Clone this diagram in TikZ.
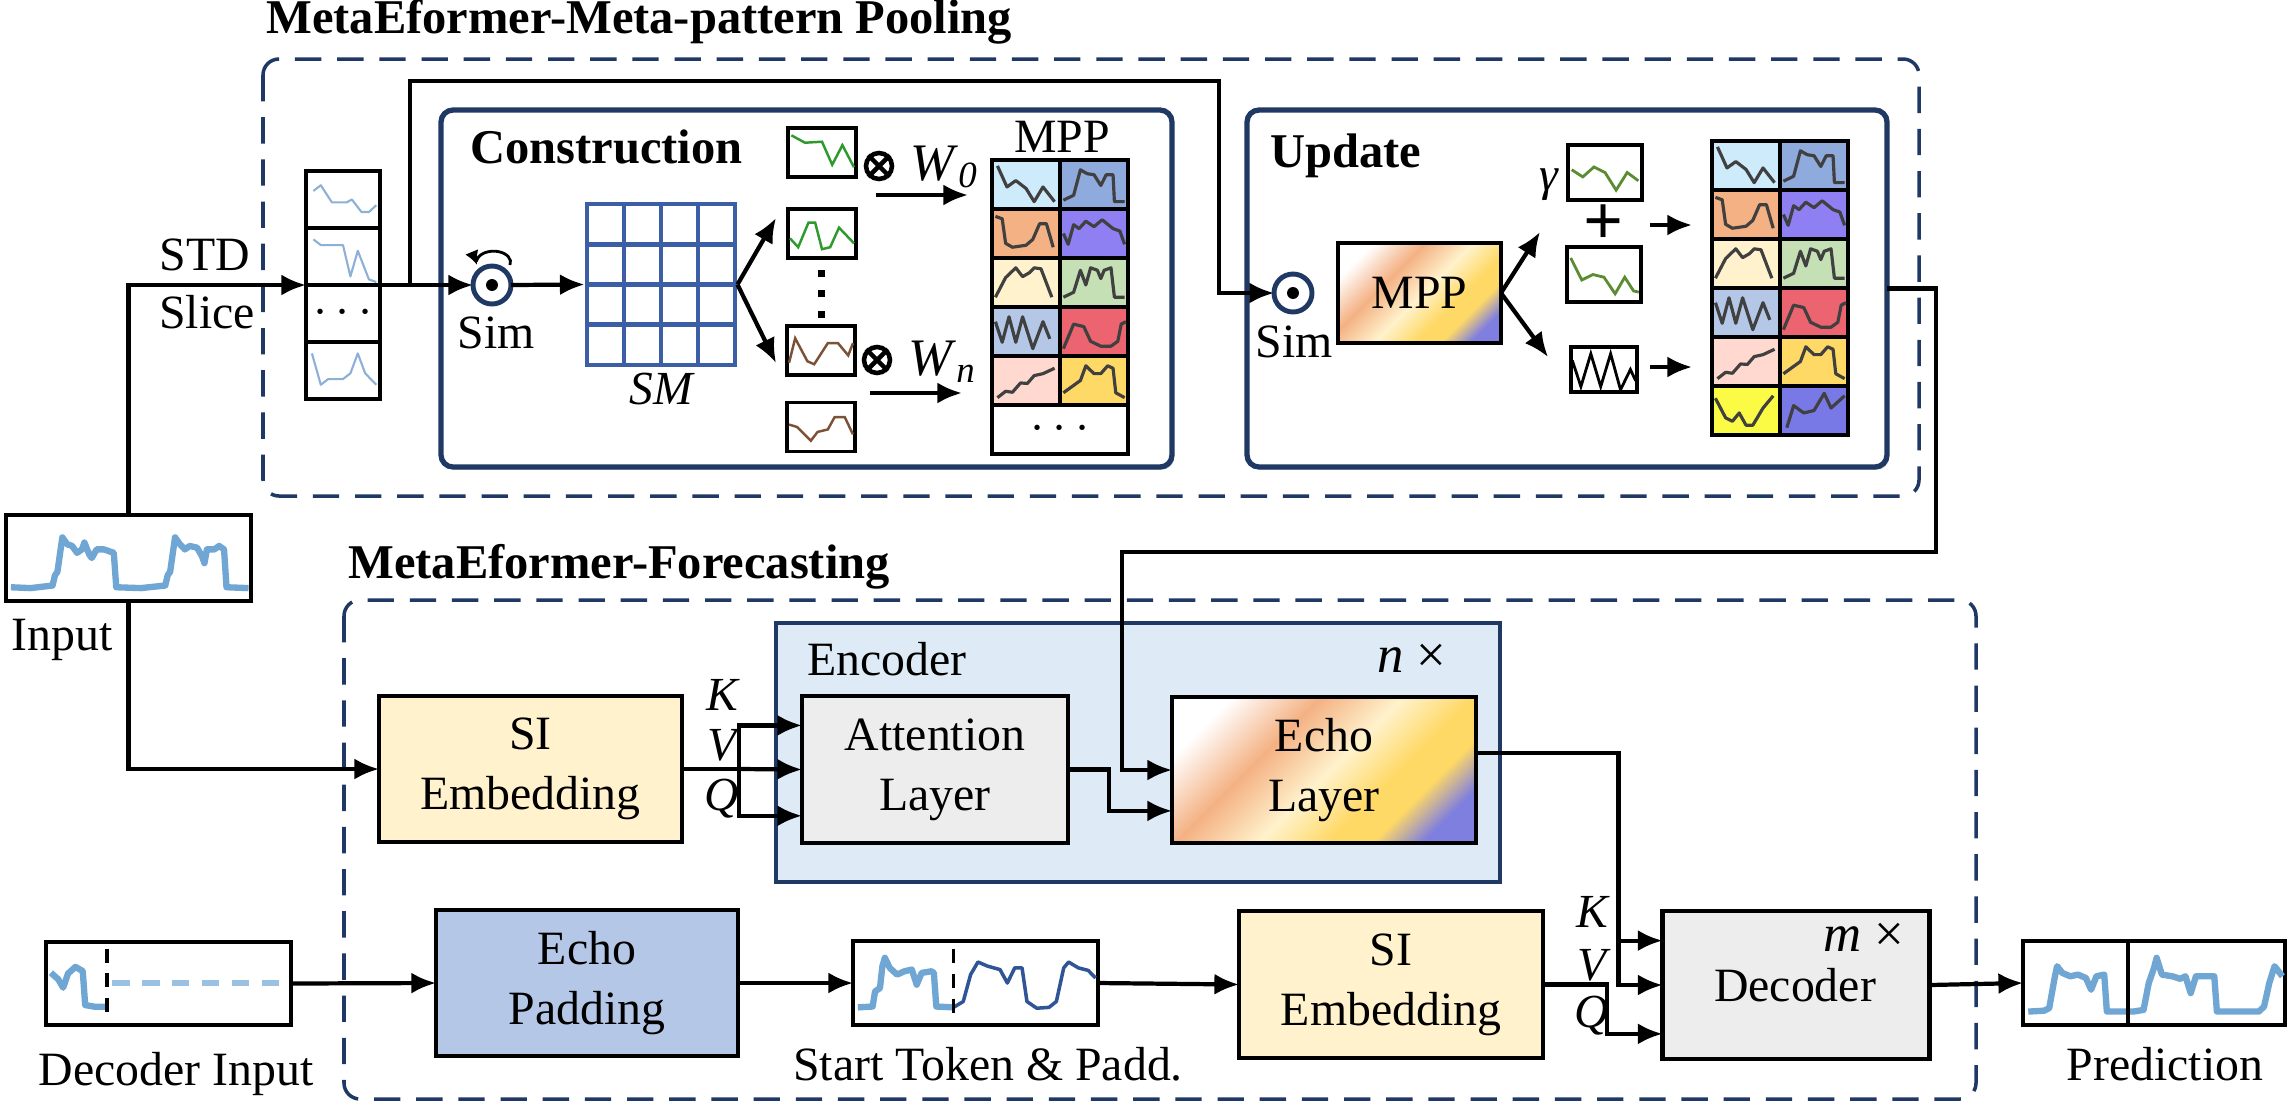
\documentclass[tikz,border=0pt]{standalone}
\usepackage{fontspec}
\setmainfont{Liberation Serif}
\usetikzlibrary{arrows.meta,calc,shadows}

\definecolor{navy}{HTML}{1F3864}
\definecolor{gridblue}{HTML}{3B5EA6}
\definecolor{siyellow}{HTML}{FFF2CC}
\definecolor{encblue}{HTML}{DEEBF7}
\definecolor{laygray}{HTML}{EDEDED}
\definecolor{padblue}{HTML}{B4C7E7}
\definecolor{sigblue}{HTML}{6FA6D4}
\definecolor{sigdark}{HTML}{2F5597}
\definecolor{slblue}{HTML}{8DB0D8}
\definecolor{patgreen}{HTML}{2E9A2E}
\definecolor{updgreen}{HTML}{5B8C32}
\definecolor{patbrown}{HTML}{7B5138}
\definecolor{patgray}{HTML}{404040}
% MPP cell colours
\definecolor{mppcyan}{HTML}{CDEBFA}
\definecolor{mppblue}{HTML}{8FAADC}
\definecolor{mppor}{HTML}{F4B183}
\definecolor{mpppur}{HTML}{8E80F2}
\definecolor{mppcream}{HTML}{FFF2CC}
\definecolor{mppgreen}{HTML}{C5E0B4}
\definecolor{mppsky}{HTML}{B4C7E7}
\definecolor{mppred}{HTML}{EB6470}
\definecolor{mpppink}{HTML}{FFD9CF}
\definecolor{mppgold}{HTML}{FFD966}
\definecolor{mppyel}{HTML}{FBFB45}
\definecolor{mppviol}{HTML}{7878E6}
% gradient
\definecolor{gradorange}{HTML}{F4B183}
\definecolor{gradcream}{HTML}{FFF2CC}
\definecolor{gradgold}{HTML}{FFD966}
\definecolor{gradviolet}{HTML}{7F7FE0}

\pgfdeclarehorizontalshading{echograd}{100bp}{color(0bp)=(white); color(24bp)=(white); color(38bp)=(gradorange); color(51bp)=(gradcream); color(62bp)=(gradgold); color(69bp)=(gradgold); color(77bp)=(gradviolet); color(100bp)=(gradviolet)}

% small line plot inside a node (coordinates in 0..1, y downwards)
\newcommand{\spark}[5]{%
  \begin{scope}[shift={(#1.north west)}, xscale=#2, yscale=#3]
    \draw[#4] plot coordinates {#5};
  \end{scope}}

% one coloured cell of a meta-pattern table
\newcommand{\mppcell}[4]{%
  \filldraw[fill=#3, cellline] (#1,#2) rectangle ++(68,49);
  \begin{scope}[shift={(#1,#2)}, xscale=68, yscale=49]
    \draw[mppline] plot coordinates {#4};
  \end{scope}}

% the five shared rows of the pool
\newcommand{\mpprows}[2]{%
  \mppcell{#1}{#2}{mppcyan}{(0.08,0.12) (0.22,0.55) (0.35,0.42) (0.5,0.58) (0.62,0.85) (0.75,0.55) (0.92,0.85)}
  \mppcell{#1+68}{#2}{mppblue}{(0.05,0.82) (0.2,0.72) (0.3,0.2) (0.4,0.28) (0.5,0.3) (0.6,0.52) (0.68,0.3) (0.78,0.3) (0.8,0.85) (0.95,0.85)}
  \mppcell{#1}{#2+49}{mppor}{(0.05,0.15) (0.15,0.2) (0.2,0.7) (0.3,0.78) (0.5,0.74) (0.6,0.62) (0.7,0.3) (0.8,0.3) (0.9,0.78)}
  \mppcell{#1+68}{#2+49}{mpppur}{(0.05,0.5) (0.12,0.72) (0.2,0.32) (0.28,0.4) (0.38,0.25) (0.5,0.36) (0.62,0.22) (0.78,0.4) (0.88,0.45) (0.95,0.72)}
  \mppcell{#1}{#2+98}{mppcream}{(0.05,0.8) (0.2,0.4) (0.35,0.2) (0.45,0.38) (0.55,0.3) (0.62,0.2) (0.72,0.22) (0.88,0.8)}
  \mppcell{#1+68}{#2+98}{mppgreen}{(0.05,0.8) (0.2,0.7) (0.3,0.25) (0.38,0.55) (0.45,0.2) (0.55,0.25) (0.6,0.42) (0.65,0.25) (0.75,0.2) (0.8,0.8) (0.95,0.8)}
  \mppcell{#1}{#2+147}{mppsky}{(0.05,0.3) (0.15,0.72) (0.25,0.2) (0.35,0.72) (0.45,0.2) (0.6,0.85) (0.75,0.3) (0.85,0.65)}
  \mppcell{#1+68}{#2+147}{mppred}{(0.05,0.85) (0.2,0.35) (0.35,0.4) (0.45,0.7) (0.6,0.8) (0.75,0.8) (0.85,0.7) (0.9,0.35) (0.97,0.3)}
  \mppcell{#1}{#2+196}{mpppink}{(0.08,0.85) (0.2,0.72) (0.3,0.74) (0.42,0.55) (0.52,0.56) (0.62,0.4) (0.75,0.36) (0.92,0.25)}
  \mppcell{#1+68}{#2+196}{mppgold}{(0.05,0.75) (0.3,0.5) (0.38,0.2) (0.5,0.36) (0.6,0.36) (0.7,0.2) (0.78,0.25) (0.82,0.75) (0.95,0.85)}}

\tikzset{
  arr/.style={-{Latex[length=7pt,width=6pt]}, line width=1.2pt},
  line/.style={line width=1.2pt},
  blockbox/.style={draw=black, line width=1.4pt, align=center, inner sep=0pt, outer sep=0pt},
  plotbox/.style={draw=black, line width=1.1pt, fill=white, inner sep=0pt, outer sep=0pt},
  roundbox/.style={draw=navy, line width=1.5pt, rounded corners=1.2mm, fill=white, inner sep=0pt, outer sep=0pt,
    drop shadow={shadow xshift=0.6pt, shadow yshift=-0.8pt, opacity=0.3, fill=black!60}},
  dashframe/.style={draw=navy, line width=1pt, dash pattern=on 7.5pt off 4.5pt, rounded corners=1.6mm},
  simcirc/.style={circle, draw=navy, line width=1.4pt, fill=white, minimum size=3.8mm, inner sep=0pt, outer sep=0pt},
  otimes/.style={circle, draw=black, line width=1.3pt, minimum size=2.6mm, inner sep=0pt},
  cellline/.style={draw=black, line width=1.1pt},
  mppline/.style={patgray, line width=0.9pt, line join=round},
  sigline/.style={sigblue, line width=1.8pt, line join=round},
  darkline/.style={sigdark, line width=1pt, line join=round},
  slline/.style={slblue, line width=0.6pt, line join=round},
  tokdash/.style={black, line width=1.1pt, dash pattern=on 4pt off 3pt},
  padline/.style={sigblue!70, line width=1.8pt, dash pattern=on 5pt off 3.5pt},
  titlefont/.style={font=\fontsize{13.8}{16}\selectfont\bfseries},
  itfont/.style={font=\fontsize{13.5}{16}\selectfont\itshape},
}

\begin{document}
\begin{tikzpicture}[x=0.1mm, y=-0.1mm, font=\fontsize{13.6}{17}\selectfont]
    \useasboundingbox (0,0) rectangle (2290,1104);

    % Frames
    \draw[dashframe] (263,59) rectangle (1919,496);
    \draw[dashframe] (344,600) rectangle (1976,1099);
    \node[anchor=base west, titlefont] (ttlpool) at (254,33) {MetaEformer-Meta-pattern Pooling};
    \node[anchor=base west, titlefont] (ttlfc) at (336,578) {MetaEformer-Forecasting};

    \node[roundbox, minimum width=73.1mm, minimum height=35.7mm] (cons) at (806.5,288.5) {};
    \node[roundbox, minimum width=64mm, minimum height=35.7mm] (upd) at (1567,288.5) {};
    \node[anchor=base west, titlefont] (ttlcons) at (458,163) {Construction};
    \node[anchor=base west, titlefont] (ttlupd) at (1258,167) {Update};

    % Input and STD slices
    \node[plotbox, minimum width=24.5mm, minimum height=8.6mm] (inp) at (128.5,558) {};
    \spark{inp}{245}{86}{sigline}{(0.02,0.84) (0.1,0.85) (0.19,0.82) (0.2,0.7) (0.21,0.66) (0.23,0.26) (0.25,0.34) (0.27,0.36) (0.29,0.44) (0.31,0.4) (0.32,0.32) (0.34,0.46) (0.35,0.5) (0.37,0.4) (0.4,0.4) (0.42,0.42) (0.44,0.44) (0.45,0.84) (0.55,0.85) (0.65,0.82) (0.66,0.7) (0.67,0.66) (0.69,0.26) (0.71,0.34) (0.73,0.4) (0.75,0.36) (0.78,0.38) (0.8,0.48) (0.81,0.56) (0.82,0.4) (0.85,0.4) (0.87,0.36) (0.89,0.4) (0.9,0.84) (0.99,0.85)}
    \node[anchor=base] (inlab) at (62,650) {Input};

    \node[plotbox, minimum width=7.4mm, minimum height=22.8mm] (stack) at (343,285) {};
    \foreach \k in {1,2,3} {
        \draw[line width=1.1pt] (306,171+57*\k) -- (380,171+57*\k);
    }
    \begin{scope}[shift={(306,171)}, xscale=74, yscale=57]
        \draw[slline] plot coordinates {(0.1,0.35) (0.2,0.25) (0.35,0.55) (0.55,0.55) (0.62,0.5) (0.75,0.72) (0.85,0.72) (0.95,0.6)};
        \draw[slline] plot coordinates {(0.1,1.2) (0.2,1.3) (0.5,1.3) (0.6,1.85) (0.7,1.4) (0.85,1.9) (0.95,1.95)};
        \draw[slline] plot coordinates {(0.08,3.2) (0.2,3.75) (0.3,3.65) (0.5,3.65) (0.6,3.55) (0.7,3.2) (0.8,3.55) (0.95,3.75)};
    \end{scope}
    \node (stackdots) at (343,313.5) {$\cdots$};

    \node[anchor=base] (std) at (205,270) {STD};
    \node[anchor=base] (slice) at (207,328) {Slice};
    \draw[arr] (inp.north) |- (stack.west);

    % Construction
    \node[simcirc] (sim1) at (492,285) {};
    \fill (sim1) circle (1.7pt);
    \node[anchor=base] (simlab1) at (496,348) {Sim};
    \draw[-{Latex[length=4pt,width=4pt]}, line width=0.8pt] (510,265) arc[start angle=15, end angle=-195, x radius=17, y radius=11];
    \coordinate (split) at (410,285);
    \coordinate (bend) at (1219,81);
    \draw[arr] (stack.east) -- (sim1.west);

    \node[draw=gridblue, line width=1.4pt, minimum width=14.8mm, minimum height=16.1mm, inner sep=0pt] (smgrid) at (661,284.5) {};
    \foreach \k in {1,2,3} {
        \draw[gridblue, line width=1.4pt] (587+37*\k,204) -- (587+37*\k,365);
        \draw[gridblue, line width=1.4pt] (587,204+40.25*\k) -- (735,204+40.25*\k);
    }
    \node[anchor=base, itfont] (smlab) at (661,404) {SM};
    \draw[arr] (sim1.east) -- (smgrid.west);

    \coordinate (gup) at (776,218);
    \coordinate (gdn) at (776,363);
    \draw[arr] (smgrid.east) -- (gup);
    \draw[arr] (smgrid.east) -- (gdn);

    \node[plotbox, minimum width=6.8mm, minimum height=4.9mm] (b1) at (822,152.5) {};
    \node[plotbox, minimum width=6.8mm, minimum height=4.9mm] (b2) at (822,233.5) {};
    \node[plotbox, minimum width=6.8mm, minimum height=4.9mm] (b3) at (821,350.5) {};
    \node[plotbox, minimum width=6.8mm, minimum height=4.9mm] (b4) at (821,427) {};
    \spark{b1}{68}{49}{patgreen, line width=0.7pt}{(0.05,0.15) (0.25,0.3) (0.5,0.28) (0.65,0.75) (0.8,0.35) (0.97,0.8)}
    \spark{b2}{68}{49}{patgreen, line width=0.7pt}{(0.03,0.6) (0.15,0.78) (0.3,0.28) (0.4,0.28) (0.5,0.82) (0.62,0.78) (0.75,0.38) (0.97,0.7)}
    \spark{b3}{68}{49}{patbrown, line width=0.7pt}{(0.03,0.75) (0.12,0.25) (0.3,0.72) (0.4,0.78) (0.6,0.35) (0.75,0.35) (0.9,0.6) (0.97,0.35)}
    \spark{b4}{68}{49}{patbrown, line width=0.7pt}{(0.03,0.45) (0.15,0.5) (0.35,0.78) (0.45,0.6) (0.6,0.55) (0.7,0.3) (0.85,0.3) (0.97,0.65)}
    \foreach \yy in {273,293,314} {
        \fill (817.5,\yy-3.5) rectangle ++(7,7);
    }

    \node[otimes] (ot0) at (879,166) {};
    \draw[line width=1.3pt] (ot0.north west) -- (ot0.south east) (ot0.north east) -- (ot0.south west);
    \node[otimes] (otn) at (877,360) {};
    \draw[line width=1.3pt] (otn.north west) -- (otn.south east) (otn.north east) -- (otn.south west);
    \node[anchor=base west, font=\fontsize{15}{17}\selectfont] (w0) at (898,180) {\textit{W}\textsubscript{\textit{0}}};
    \node[anchor=base west, font=\fontsize{15}{17}\selectfont] (wn) at (896,375) {\textit{W}\textsubscript{\textit{n}}};
    \coordinate (w0s) at (876,195);
    \coordinate (w0e) at (968,195);
    \coordinate (wns) at (870,393);
    \coordinate (wne) at (962,393);
    \draw[arr] (w0s) -- (w0e);
    \draw[arr] (wns) -- (wne);

    \node[anchor=base] (mpplab) at (1062,152) {MPP};
    \mpprows{992}{160}
    \filldraw[fill=white, cellline] (992,405) rectangle (1128,454);
    \node (mppdots) at (1060,429.5) {$\cdots$};

    % Update
    \node[simcirc] (sim2) at (1293,293) {};
    \fill (sim2) circle (1.7pt);
    \draw[arr] (split) |- (bend) |- (sim2.west);
    \node[anchor=base] (simlab2) at (1294,357) {Sim};
    \node[blockbox, shading=echograd, shading angle=-45, minimum width=16.3mm, minimum height=10mm] (mppbox) at (1419.5,293) {MPP};

    \coordinate (uup) at (1540,232);
    \coordinate (udn) at (1548,357);
    \draw[arr] (mppbox.east) -- (uup);
    \draw[arr] (mppbox.east) -- (udn);

    \node[anchor=base, itfont] (gam) at (1549,190) {γ};
    \node[plotbox, minimum width=7.4mm, minimum height=5.5mm] (gb1) at (1605,172.5) {};
    \node[plotbox, minimum width=7.4mm, minimum height=5.5mm] (gb2) at (1604,274.5) {};
    \node[plotbox, minimum width=6.6mm, minimum height=4.5mm] (zb) at (1604,369.5) {};
    \spark{gb1}{74}{55}{updgreen, line width=0.8pt}{(0.05,0.45) (0.2,0.58) (0.35,0.4) (0.5,0.5) (0.65,0.82) (0.8,0.5) (0.95,0.65)}
    \spark{gb2}{74}{55}{updgreen, line width=0.8pt}{(0.05,0.2) (0.2,0.6) (0.35,0.5) (0.5,0.55) (0.65,0.85) (0.78,0.55) (0.9,0.8) (0.97,0.82)}
    \spark{zb}{66}{45}{black, line width=0.8pt}{(0.02,0.3) (0.15,0.88) (0.3,0.15) (0.45,0.88) (0.6,0.15) (0.75,0.95) (0.9,0.5) (0.98,0.75)}
    \node[font=\fontsize{20}{20}\selectfont\bfseries] (plus) at (1604,225) {+};
    \coordinate (pa1) at (1650,225);
    \coordinate (pa2) at (1692,225);
    \coordinate (za1) at (1650,367);
    \coordinate (za2) at (1692,367);
    \draw[arr] (pa1) -- (pa2);
    \draw[arr] (za1) -- (za2);

    \mpprows{1712}{141}
    \mppcell{1712}{386}{mppyel}{(0.05,0.25) (0.2,0.65) (0.3,0.72) (0.4,0.55) (0.5,0.8) (0.6,0.8) (0.75,0.45) (0.9,0.2)}
    \mppcell{1780}{386}{mppviol}{(0.1,0.85) (0.2,0.4) (0.35,0.55) (0.5,0.5) (0.65,0.15) (0.75,0.45) (0.95,0.2)}

    % Encoder
    \node[draw=navy, fill=encblue, line width=1.4pt, minimum width=72.4mm, minimum height=25.9mm, inner sep=0pt] (enc) at (1138,752.5) {};
    \node[anchor=base west] (enclab) at (795,675) {Encoder};
    \node[anchor=base east, font=\fontsize{15}{17}\selectfont] (nlab) at (1459,672) {\textit{n} ×};
    \node[blockbox, fill=siyellow, minimum width=30.3mm, minimum height=14.6mm] (si1) at (530.5,769) {SI\\Embedding};
    \node[blockbox, fill=laygray, minimum width=26.6mm, minimum height=14.7mm] (att) at (935,769.5) {Attention\\Layer};
    \node[blockbox, shading=echograd, shading angle=-45, minimum width=30.4mm, minimum height=14.6mm] (echo) at (1324,770) {Echo\\Layer};
    \draw[arr] (inp.south) |- (si1.west);

    \coordinate (kvq) at (739,769);
    \draw[line] (si1.east) -- (kvq);
    \draw[arr] (kvq) -- (att.west);
    \draw[arr] (kvq) |- ($(att.west)!0.6!(att.north west)$);
    \draw[arr] (kvq) |- ($(att.west)!0.63!(att.south west)$);
    \node[anchor=base, itfont] (k1) at (722,710) {K};
    \node[anchor=base, itfont] (v1) at (722,760) {V};
    \node[anchor=base, itfont] (q1) at (722,810) {Q};

    \draw[arr] (att.east) -- ++(41,0) |- ($(echo.west)!0.56!(echo.south west)$);
    \coordinate (ur) at (1936,552);
    \coordinate (ecin) at (1122,770);
    \draw[arr] (upd.east) -| (ur) -| (ecin) -- (echo.west);

    % Decoder side
    \node[plotbox, minimum width=24.5mm, minimum height=8.3mm] (decin) at (168.5,983.5) {};
    \spark{decin}{245}{83}{sigline}{(0.02,0.37) (0.05,0.45) (0.07,0.55) (0.09,0.38) (0.12,0.3) (0.15,0.35) (0.16,0.76) (0.2,0.78) (0.25,0.78)}
    \spark{decin}{245}{83}{padline}{(0.27,0.49) (0.99,0.49)}
    \spark{decin}{245}{83}{tokdash}{(0.25,0.08) (0.25,0.92)}
    \node[anchor=base] (dilab) at (176,1085) {Decoder Input};

    \node[blockbox, fill=padblue, minimum width=30.2mm, minimum height=14.6mm] (epad) at (587,983) {Echo\\Padding};

    \node[plotbox, minimum width=24.5mm, minimum height=8.4mm] (stok) at (975.5,983) {};
    \spark{stok}{245}{84}{sigline}{(0.02,0.79) (0.08,0.78) (0.09,0.6) (0.11,0.56) (0.12,0.3) (0.13,0.2) (0.15,0.32) (0.18,0.4) (0.21,0.36) (0.24,0.34) (0.26,0.52) (0.28,0.38) (0.32,0.36) (0.33,0.38) (0.34,0.78) (0.41,0.79)}
    \spark{stok}{245}{84}{darkline}{(0.41,0.79) (0.45,0.72) (0.48,0.4) (0.51,0.25) (0.55,0.3) (0.6,0.34) (0.63,0.5) (0.66,0.32) (0.69,0.32) (0.71,0.72) (0.75,0.8) (0.8,0.79) (0.83,0.72) (0.86,0.32) (0.88,0.25) (0.92,0.32) (0.96,0.35) (0.99,0.44)}
    \spark{stok}{245}{84}{tokdash}{(0.41,0.1) (0.41,0.95)}
    \node[anchor=base] (stlab) at (988,1080) {Start Token \& Padd.};

    \node[blockbox, fill=siyellow, minimum width=30.4mm, minimum height=14.7mm] (si2) at (1391,984.5) {SI\\Embedding};
    \node[blockbox, fill=laygray, minimum width=26.7mm, minimum height=14.8mm] (dec) at (1796,985) {};
    \node[anchor=base] (declab) at (1795,1001) {Decoder};
    \node[anchor=base east, font=\fontsize{15}{17}\selectfont] (mlab) at (1917,951) {\textit{m} ×};

    \draw[arr] (decin.east) -- (epad.west);
    \draw[arr] (epad.east) -- (stok.west);
    \draw[arr] (stok.east) -- (si2.west);

    \coordinate (dvj) at ($(dec.west)+(-44,0)$);
    \coordinate (dk) at ($(dec.west)!0.6!(dec.north west)$);
    \coordinate (dq) at ($(dec.west)!0.66!(dec.south west)$);
    \draw[arr] ($(echo.east)!0.23!(echo.north east)$) -| (dvj) -- (dec.west);
    \draw[arr] (dvj |- dk) -- (dk);
    \draw[arr] (si2.east) -- ++(64,0) |- (dq);
    \node[anchor=base, itfont] (k2) at (1592,927) {K};
    \node[anchor=base, itfont] (v2) at (1592,980) {V};
    \node[anchor=base, itfont] (q2) at (1592,1027) {Q};

    \node[plotbox, minimum width=26.2mm, minimum height=8.4mm] (pred) at (2154,983) {};
    \spark{pred}{262}{84}{sigline}{(0.02,0.84) (0.08,0.83) (0.1,0.8) (0.12,0.45) (0.13,0.3) (0.15,0.38) (0.18,0.42) (0.21,0.4) (0.24,0.44) (0.26,0.58) (0.28,0.42) (0.31,0.4) (0.32,0.84) (0.42,0.84) (0.46,0.82) (0.48,0.5) (0.5,0.32) (0.51,0.2) (0.53,0.4) (0.57,0.42) (0.6,0.45) (0.62,0.42) (0.64,0.62) (0.66,0.42) (0.73,0.42) (0.74,0.84) (0.9,0.84) (0.92,0.78) (0.94,0.5) (0.96,0.3) (0.99,0.42)}
    \draw[line width=1.3pt] ($(pred.north west)!0.4!(pred.north east)$) -- ($(pred.south west)!0.4!(pred.south east)$);
    \node[anchor=base] (prlab) at (2165,1080) {Prediction};
    \draw[arr] (dec.east) -- (pred.west);

\end{tikzpicture}
\end{document}
